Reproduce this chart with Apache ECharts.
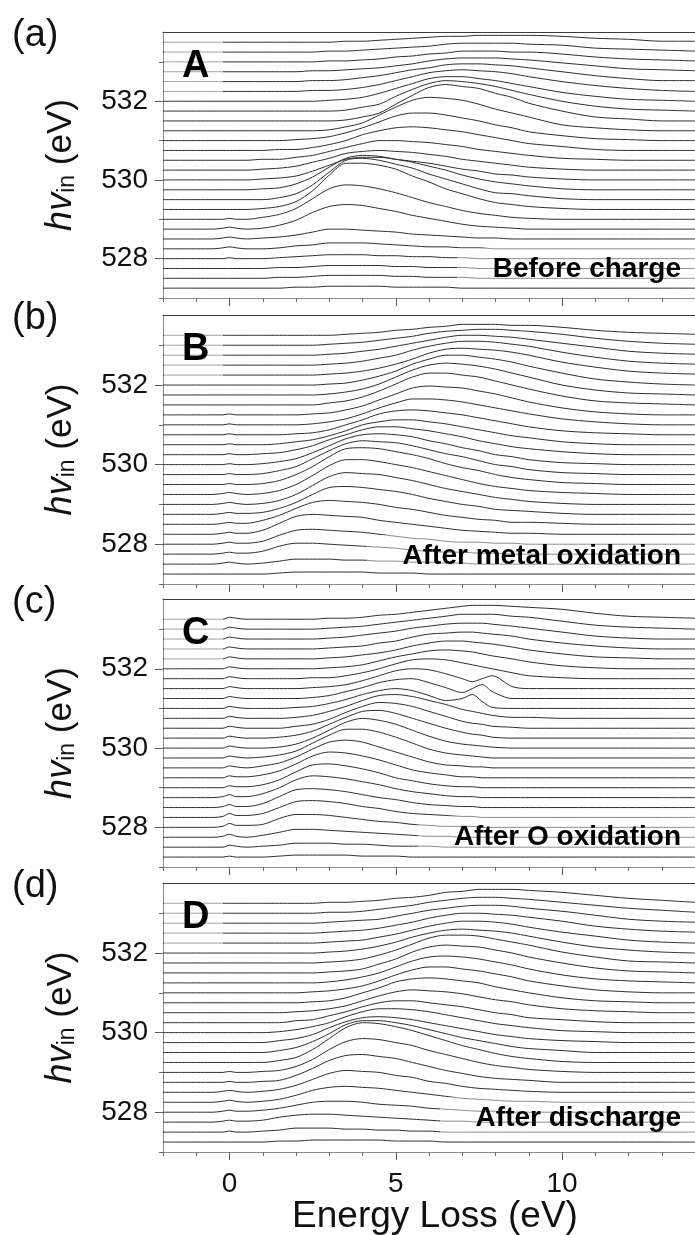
<!DOCTYPE html>
<html>
<head>
<meta charset="utf-8">
<title>RIXS maps</title>
<script src="https://cdn.jsdelivr.net/npm/echarts@6.0.0/dist/echarts.min.js"></script>
<style>
html,body{margin:0;padding:0;background:#ffffff;}
#chart{width:695px;height:1235px;}
</style>
</head>
<body>
<div id="chart"></div>
<script>
// ---------------- data ----------------
// energy-loss sample positions (eV)
const energyLoss  = [-2,-1,-0.5,-0.2,0,0.2,0.5,1,1.5,2,2.5,3,3.5,4,4.5,5,5.5,6,6.5,7,7.5,8,8.5,9,10,11,12,13,14];
const energyLossC = [-2,-1,-0.5,-0.2,0,0.2,0.5,1,1.5,2,2.5,3,3.5,4,4.5,5,5.5,6,6.5,7,7.3,7.6,7.9,8.5,9,10,11,12,13,14];

// excitation energies of the stacked spectra (eV)
const hvA = [527.25,527.5,527.75,528,528.25,528.5,528.75,529,529.25,529.5,529.75,530,530.25,530.5,530.75,531,531.25,531.5,531.75,532,532.25,532.5,532.75,533,533.25,533.5];
const hvB = [527.25,527.5,527.75,528,528.25,528.5,528.75,529,529.25,529.5,529.75,530,530.25,530.5,530.75,531,531.25,531.5,531.75,532,532.25,532.5,532.75,533,533.25];
const hvC = [527.25,527.5,527.75,528,528.25,528.5,528.75,529,529.25,529.5,529.75,530,530.25,530.5,530.75,531,531.25,531.5,531.75,532,532.25,532.5,532.75,533,533.25];
const hvD = [527.25,527.5,527.75,528,528.25,528.5,528.75,529,529.25,529.5,529.75,530,530.25,530.5,530.75,531,531.25,531.5,531.75,532,532.25,532.5,532.75,533,533.25];

// RIXS intensity of every spectrum (arbitrary units), one row per hv
const specA = [
[0,0,0,0,0,0,0,0,0,1,1,2,2,2,2,1,1,1,1,0,0,0,0,0,0,0,0,0,0],
[0,0,0,0,0,0,0,0,1,1,2,3,3,3,3,2,2,1,1,1,0,0,0,0,0,0,0,0,0],
[0,0,0,0,0,0,0,0,1,1,2,3,3,3,3,2,2,1,1,1,0,0,0,0,0,0,0,0,0],
[0,0,0,0,1,0,0,0,1,2,3,4,4,4,3,3,2,2,1,1,0,0,0,0,0,0,0,0,0],
[0,0,0,1,2,1,0,0,1,3,4,6,6,6,5,4,3,2,2,1,1,0,0,0,0,0,0,0,0],
[0,0,0,1,2,1,0,1,2,4,7,10,10,9,8,7,5,4,3,2,1,1,0,0,0,0,0,0,0],
[0,0,0,1,2,1,0,1,4,9,17,23,25,24,21,18,14,11,8,5,3,2,1,0,0,0,0,0,0],
[0,0,0,0,1,0,0,2,5,11,21,31,35,34,31,27,22,17,13,9,6,4,2,1,0,0,0,0,0],
[0,0,0,0,0,0,0,1,3,8,19,35,47,47,45,41,34,28,21,16,11,7,5,3,1,0,0,0,0],
[0,0,0,0,0,0,0,0,2,6,15,28,40,42,40,36,32,26,21,16,11,7,6,4,1,0,0,0,0],
[0,0,0,0,0,0,0,1,2,6,13,23,32,35,34,31,28,24,20,15,11,8,6,4,1,0,0,0,0],
[0,0,0,0,0,0,0,1,2,4,9,15,21,23,23,21,19,17,14,11,9,6,5,3,1,0,0,0,0],
[0,0,0,0,0,0,0,1,2,4,8,12,17,19,20,19,18,16,14,11,9,7,5,3,1,0,0,0,0],
[0,0,0,0,0,0,0,1,1,3,5,9,13,17,20,20,19,18,16,14,11,9,7,5,2,1,0,0,0],
[0,0,0,0,0,0,0,0,1,1,3,6,10,16,20,23,24,23,21,19,16,13,10,7,4,1,0,0,0],
[0,0,0,0,0,0,0,0,0,1,2,4,8,13,19,25,28,28,26,23,20,16,13,9,5,2,1,0,0],
[0,0,0,0,0,0,0,0,0,0,0,1,4,8,16,24,31,34,33,31,27,22,18,14,6,3,1,0,0],
[0,0,0,0,0,0,0,0,0,0,0,0,1,4,8,17,26,34,37,35,33,28,24,18,10,4,2,0,0],
[0,0,0,0,0,0,0,0,0,0,0,0,1,4,7,15,22,28,31,30,28,25,21,17,10,5,2,1,0],
[0,0,0,0,0,0,0,0,0,0,0,1,2,4,8,13,18,23,25,25,23,21,18,15,9,5,2,1,0],
[0,0,0,0,0,0,0,0,0,0,1,1,2,4,7,11,15,19,21,22,21,20,18,15,10,6,3,1,0],
[0,0,0,0,0,0,0,0,0,0,1,1,2,4,6,9,12,14,17,18,18,17,16,14,10,6,3,1,1],
[0,0,0,0,0,0,0,0,0,0,1,1,2,3,4,6,8,11,13,14,14,14,13,12,9,6,3,2,1],
[0,0,0,0,0,0,0,0,0,0,0,1,1,2,3,5,6,8,9,11,11,11,10,10,8,5,3,2,1],
[0,0,0,0,0,0,0,0,0,0,0,1,1,2,3,4,5,6,8,9,9,9,9,8,7,4,3,2,1],
[0,0,0,0,0,0,0,0,0,0,0,0,1,1,2,3,4,5,6,6,7,7,7,7,6,4,3,1,1]
];
const specB = [
[0,0,0,0,0,0,0,0,1,2,2,2,2,2,1,1,1,0,0,0,0,0,0,0,0,0,0,0,0],
[0,0,0,1,2,1,0,1,3,5,5,5,4,4,3,3,2,2,1,1,0,0,0,0,0,0,0,0,0],
[0,0,0,1,2,1,1,3,8,11,11,10,9,8,7,6,4,3,2,2,1,1,0,0,0,0,0,0,0],
[0,0,0,1,2,1,1,3,9,14,15,14,13,12,10,8,6,5,3,2,2,1,1,0,0,0,0,0,0],
[0,0,0,1,2,1,1,4,11,18,20,19,18,17,14,12,10,8,6,4,3,2,1,1,0,0,0,0,0],
[0,0,0,1,2,1,1,4,9,16,22,24,23,22,20,17,15,12,9,7,5,4,2,2,1,0,0,0,0],
[0,0,0,1,2,1,1,2,6,12,20,27,28,27,25,23,20,16,13,10,8,5,4,3,1,0,0,0,0],
[0,0,0,1,2,1,0,1,4,10,19,28,32,31,30,27,24,20,16,13,10,7,5,3,1,0,0,0,0],
[0,0,0,1,2,1,0,1,4,10,19,29,35,35,33,30,27,23,19,15,11,8,6,4,2,1,0,0,0],
[0,0,0,0,1,0,0,1,4,10,18,28,36,37,36,33,30,26,21,17,14,10,7,5,2,1,0,0,0],
[0,0,0,0,1,0,0,1,4,8,16,24,31,34,33,32,29,25,21,18,14,10,8,5,2,1,0,0,0],
[0,0,0,0,1,0,0,1,3,6,12,19,26,30,31,30,28,24,21,17,14,10,8,5,2,1,0,0,0],
[0,0,0,0,1,0,0,1,2,5,9,15,20,25,28,28,26,24,21,18,14,11,8,6,3,1,0,0,0],
[0,0,0,0,1,0,0,0,1,3,5,9,14,20,23,25,25,23,21,18,15,12,9,7,3,1,0,0,0],
[0,0,0,0,1,0,0,0,0,1,2,5,10,15,21,24,25,24,22,20,17,14,11,8,4,2,1,0,0],
[0,0,0,0,1,0,0,0,0,0,1,3,6,11,17,22,26,26,25,23,20,17,14,11,6,3,1,0,0],
[0,0,0,0,1,0,0,0,0,0,1,2,5,9,15,21,27,29,28,27,24,21,17,13,7,3,1,0,0],
[0,0,0,0,0,0,0,0,0,0,0,2,4,8,14,21,28,32,32,30,28,24,20,16,9,4,2,1,0],
[0,0,0,0,0,0,0,0,0,0,0,1,3,6,11,18,25,30,32,31,29,26,22,18,10,5,2,1,0],
[0,0,0,0,0,0,0,0,0,0,0,1,2,5,9,14,21,26,30,30,28,26,23,19,12,6,3,1,0],
[0,0,0,0,0,0,0,0,0,0,0,1,2,4,7,11,16,22,26,27,26,25,23,20,13,8,4,2,1],
[0,0,0,0,0,0,0,0,0,0,0,1,2,4,7,10,15,19,22,24,24,23,21,19,13,8,4,2,1],
[0,0,0,0,0,0,0,0,0,0,0,1,2,4,6,9,12,15,18,20,20,19,18,16,12,8,4,2,1],
[0,0,0,0,0,0,0,0,0,0,0,1,2,3,5,7,9,12,14,15,16,16,15,14,11,7,4,2,1],
[0,0,0,0,0,0,0,0,0,0,0,0,1,2,3,5,6,8,9,11,11,11,10,10,8,5,3,2,1]
];
const specC = [
[0,0,0,0,1,0,0,0,1,2,2,2,2,1,1,1,0,0,0,0,0,0,0,0,0,0,0,0,0,0],
[0,0,0,0,2,1,0,1,2,4,4,4,3,3,2,1,1,1,0,0,0,0,0,0,0,0,0,0,0,0],
[0,0,0,1,3,1,0,2,5,8,8,7,6,5,4,3,2,1,1,0,0,0,0,0,0,0,0,0,0,0],
[0,0,0,1,4,2,2,3,9,13,13,12,10,8,6,5,3,2,1,1,1,0,0,0,0,0,0,0,0,0],
[0,0,0,1,4,2,2,4,10,16,17,16,14,11,9,6,4,3,2,1,1,0,0,0,0,0,0,0,0,0],
[0,0,0,1,3,1,1,4,11,18,19,18,16,13,10,8,5,3,2,1,1,0,0,0,0,0,0,0,0,0],
[0,0,0,1,3,1,1,4,10,18,22,21,19,16,13,9,6,4,2,1,1,0,0,0,0,0,0,0,0,0],
[0,0,0,0,2,1,1,3,8,16,23,24,22,19,15,10,7,4,2,1,1,0,0,0,0,0,0,0,0,0],
[0,0,0,0,2,1,1,3,7,14,22,26,25,22,18,13,8,5,3,1,1,0,0,0,0,0,0,0,0,0],
[0,0,0,0,2,1,0,2,5,11,19,26,28,26,21,16,11,6,3,2,1,1,0,0,0,0,0,0,0,0],
[0,0,0,0,2,1,0,1,3,7,15,23,29,29,26,21,15,9,5,3,2,1,0,0,0,0,0,0,0,0],
[0,0,0,0,2,1,0,0,1,4,10,18,26,30,28,24,18,12,7,4,3,2,1,0,0,0,0,0,0,0],
[0,0,0,0,2,1,0,0,1,3,7,14,21,27,28,25,20,15,10,6,4,3,1,0,0,0,0,0,0,0],
[0,0,0,0,2,1,0,0,0,2,4,9,16,22,26,25,22,17,12,7,5,4,2,1,0,0,0,0,0,0],
[0,0,0,0,2,1,0,0,0,1,3,7,12,18,23,24,22,18,14,9,7,5,3,1,1,0,0,0,0,0],
[0,0,0,0,2,1,0,0,0,1,2,5,9,14,18,20,18,13,8,10,14,7,1,0,0,0,0,0,0,0],
[0,0,0,0,2,1,0,0,0,0,1,3,7,11,16,19,20,16,11,6,10,14,7,0,0,0,0,0,0,0],
[0,0,0,0,2,1,0,0,0,0,1,2,4,8,13,18,20,19,15,10,7,10,13,2,0,0,0,0,0,0],
[0,0,0,0,2,1,0,0,0,0,1,1,3,6,10,15,19,20,19,16,14,12,10,6,3,1,0,0,0,0],
[0,0,0,0,2,1,0,0,0,0,0,1,2,4,8,12,15,18,19,18,17,15,13,10,7,3,1,0,0,0],
[0,0,0,0,2,1,0,0,0,0,0,1,2,4,6,9,13,16,18,18,17,16,15,12,9,5,2,1,0,0],
[0,0,0,0,2,1,0,0,0,0,0,1,2,3,6,8,12,15,16,17,17,16,15,13,10,6,3,1,0,0],
[0,0,0,0,2,1,0,0,0,0,0,1,2,4,6,8,11,13,15,16,16,16,15,13,11,7,3,1,0,0],
[0,0,0,0,2,1,0,0,0,0,0,1,2,3,5,7,9,11,13,15,15,15,15,13,12,8,4,2,1,0],
[0,0,0,0,2,1,0,0,0,0,0,1,1,2,4,5,7,9,11,13,14,14,14,13,12,10,6,3,2,1]
];
const specD = [
[0,0,0,0,0,0,0,0,1,1,2,2,2,2,2,1,1,1,0,0,0,0,0,0,0,0,0,0,0],
[0,0,0,0,1,0,0,1,2,4,4,4,3,3,2,2,1,1,0,0,0,0,0,0,0,0,0,0,0],
[0,0,0,1,2,1,1,2,5,7,8,8,7,6,5,4,3,2,1,1,0,0,0,0,0,0,0,0,0],
[0,0,0,1,2,1,1,2,4,7,10,11,11,10,8,7,6,4,3,2,1,1,0,0,0,0,0,0,0],
[0,0,0,1,2,1,0,1,3,7,12,15,16,15,14,12,10,8,6,4,3,2,1,1,0,0,0,0,0],
[0,0,0,1,2,1,0,1,3,7,13,19,22,21,20,17,15,11,9,6,4,3,2,1,0,0,0,0,0],
[0,0,0,0,1,0,0,1,2,7,14,22,27,28,26,24,20,16,12,9,6,4,3,2,0,0,0,0,0],
[0,0,0,0,1,0,0,1,2,6,13,23,31,34,33,30,27,22,18,14,10,7,5,3,1,0,0,0,0],
[0,0,0,0,0,0,0,0,2,5,13,24,35,40,39,36,32,27,22,17,13,9,6,4,1,0,0,0,0],
[0,0,0,0,0,0,0,0,2,5,11,19,28,32,32,30,27,23,19,15,12,9,6,4,2,0,0,0,0],
[0,0,0,0,0,0,0,0,2,4,8,15,21,25,26,25,23,20,17,14,11,8,6,4,2,1,0,0,0],
[0,0,0,0,0,0,0,0,1,3,6,10,16,21,24,24,23,21,18,15,12,9,7,5,2,1,0,0,0],
[0,0,0,0,0,0,0,0,0,2,3,7,11,16,20,22,22,20,18,16,13,10,8,5,3,1,0,0,0],
[0,0,0,0,0,0,0,0,0,1,2,4,7,12,17,21,23,22,21,19,16,13,11,8,4,2,1,0,0],
[0,0,0,0,0,0,0,0,0,0,1,2,5,10,15,21,24,25,24,22,20,16,13,10,5,2,1,0,0],
[0,0,0,0,0,0,0,0,0,0,1,2,4,7,12,18,23,26,26,24,22,19,16,12,7,3,1,0,0],
[0,0,0,0,0,0,0,0,0,0,0,1,3,6,10,16,22,26,27,26,24,21,18,14,8,4,2,1,0],
[0,0,0,0,0,0,0,0,0,0,0,1,2,4,9,14,21,26,28,27,26,23,20,16,10,5,2,1,0],
[0,0,0,0,0,0,0,0,0,0,0,1,2,4,8,13,19,25,28,28,27,24,21,18,11,6,2,1,0],
[0,0,0,0,0,0,0,0,0,0,0,1,2,4,7,11,16,20,23,24,23,22,20,17,11,6,3,1,0],
[0,0,0,0,0,0,0,0,0,0,0,1,2,3,6,9,13,17,20,22,22,21,19,16,11,7,3,1,0],
[0,0,0,0,0,0,0,0,0,0,0,1,2,3,5,8,11,15,18,20,20,19,18,16,12,7,4,2,1],
[0,0,0,0,0,0,0,0,0,0,0,1,2,3,4,7,10,13,15,17,18,18,17,15,12,8,4,2,1],
[0,0,0,0,0,0,0,0,0,0,0,1,1,2,4,6,8,11,13,15,16,16,15,14,11,8,5,3,1],
[0,0,0,0,0,0,0,0,0,0,0,1,1,2,3,5,6,8,11,12,14,14,14,13,11,8,5,3,1]
];

// axis ticks / labels
const yTickValues  = [528, 530, 532];
const yMinorTicks  = [527, 528, 529, 530, 531, 532, 533];
const xTickValues  = [0, 5, 10];
const xMinorTicks  = [-2,-1,0,1,2,3,4,5,6,7,8,9,10,11,12,13,14];
const panelTags     = ['(a)', '(b)', '(c)', '(d)'];
const sampleLetters = ['A', 'B', 'C', 'D'];
const conditions    = ['Before charge', 'After metal oxidation', 'After O oxidation', 'After discharge'];
const xTitle = 'Energy Loss (eV)';

// ---------------- layout / style ----------------
const FONT = '"Liberation Sans", Arial, Helvetica, sans-serif';
const OFFSET_PER_UNIT = 0.025;   // eV of vertical offset per intensity unit
const layout = [
  {top: 32,  height: 266, condBase: 278},
  {top: 315, height: 269, condBase: 565},
  {top: 599, height: 268, condBase: 846},
  {top: 883, height: 269, condBase: 1127}
];
const panelData = [
  {hv: hvA, x: energyLoss,  spec: specA},
  {hv: hvB, x: energyLoss,  spec: specB},
  {hv: hvC, x: energyLossC, spec: specC},
  {hv: hvD, x: energyLoss,  spec: specD}
];
const condWidth = [188, 278, 227, 205];

const grid = [], xAxis = [], yAxis = [], series = [], graphic = [];
const AXIS_GRAY = '#8c8c8c';

layout.forEach((L, i) => {
  const last = i === 3;
  grid.push({left: 163, top: L.top, width: 534, height: L.height, containLabel: false});
  // bottom axis: major ticks + labels
  xAxis.push({
    gridIndex: i, type: 'value', min: -2, max: 14, position: 'bottom',
    axisLine: {show: true, onZero: false, lineStyle: {color: AXIS_GRAY, width: 1}},
    axisTick: {show: true, inside: false, length: 8, customValues: xTickValues, lineStyle: {color: '#555', width: 1}},
    axisLabel: {show: last, customValues: xTickValues, margin: 18, fontSize: 28, color: '#111', fontFamily: FONT},
    splitLine: {show: false}
  });
  // bottom axis: minor ticks
  xAxis.push({
    gridIndex: i, type: 'value', min: -2, max: 14, position: 'bottom',
    axisLine: {show: false, onZero: false},
    axisTick: {show: true, length: 4, customValues: xMinorTicks, lineStyle: {color: '#666', width: 1}},
    axisLabel: {show: false}, splitLine: {show: false}
  });
  // top frame line
  xAxis.push({
    gridIndex: i, type: 'value', min: -2, max: 14, position: 'top',
    axisLine: {show: true, onZero: false, lineStyle: {color: '#3c3c3c', width: 1}},
    axisTick: {show: false}, axisLabel: {show: false}, splitLine: {show: false}
  });
  // left axis: major ticks + labels
  yAxis.push({
    gridIndex: i, type: 'value', min: 527, max: 533.76, position: 'left',
    axisLine: {show: true, onZero: false, lineStyle: {color: AXIS_GRAY, width: 1}},
    axisTick: {show: true, length: 8, customValues: yTickValues, lineStyle: {color: '#555', width: 1}},
    axisLabel: {show: true, customValues: yTickValues, margin: 15, fontSize: 28, color: '#111', fontFamily: FONT},
    splitLine: {show: false}
  });
  // left axis: minor ticks
  yAxis.push({
    gridIndex: i, type: 'value', min: 527, max: 533.76, position: 'left',
    axisLine: {show: false, onZero: false},
    axisTick: {show: true, length: 4, customValues: yMinorTicks, lineStyle: {color: '#666', width: 1}},
    axisLabel: {show: false}, splitLine: {show: false}
  });

  const P = panelData[i];
  P.hv.forEach((hv, k) => {
    series.push({
      type: 'line', xAxisIndex: i * 3, yAxisIndex: i * 2,
      data: P.x.map((x, j) => [x, hv + P.spec[k][j] * OFFSET_PER_UNIT]),
      showSymbol: false, symbol: 'none', smooth: 0.3, silent: true,
      lineStyle: {color: '#2e2e2e', width: 1}, z: 2
    });
  });

  // panel tag (a) ...
  graphic.push({type: 'text', x: 12, y: L.top + 4, z: 60,
    style: {text: panelTags[i], fontSize: 38, fontFamily: FONT, fill: '#111', align: 'left', verticalAlign: 'middle'}});
  // whitened box behind sample letter
  graphic.push({type: 'rect', z: 50, shape: {x: 164, y: L.top + 4, width: 59, height: 58},
    style: {fill: 'rgba(255,255,255,0.55)'}});
  graphic.push({type: 'text', x: 182, y: L.top + 35, z: 60,
    style: {text: sampleLetters[i], fontSize: 38, fontWeight: 'bold', fontFamily: FONT, fill: '#000', align: 'left', verticalAlign: 'middle'}});
  // whitened strip behind condition text
  const stripX = 680 - condWidth[i] - 35;
  graphic.push({type: 'rect', z: 50, shape: {x: stripX, y: L.condBase - 30, width: 720 - stripX, height: 36},
    style: {fill: 'rgba(255,255,255,0.45)'}});
  graphic.push({type: 'text', x: 681, y: L.condBase - 9, z: 60,
    style: {text: conditions[i], fontSize: 28, fontWeight: 'bold', fontFamily: FONT, fill: '#000', align: 'right', verticalAlign: 'middle'}});
  // y-axis title
  graphic.push({type: 'text', x: 61, y: L.top + L.height / 2, rotation: Math.PI / 2, z: 60,
    style: {text: '{it|hv}{sub|in}{rm| (eV)}', align: 'center', verticalAlign: 'middle', fill: '#111',
      rich: {
        it:  {fontStyle: 'italic', fontSize: 36, fontFamily: FONT, fill: '#111'},
        sub: {fontSize: 23, fontFamily: FONT, fill: '#111', verticalAlign: 'bottom'},
        rm:  {fontSize: 35, fontFamily: FONT, fill: '#111'}
      }}});
});

graphic.push({type: 'text', x: 435, y: 1217, z: 60,
  style: {text: xTitle, fontSize: 37, fontFamily: FONT, fill: '#111', align: 'center', verticalAlign: 'middle'}});

const chart = echarts.init(document.getElementById('chart'), null, {renderer: 'canvas'});
chart.setOption({
  animation: false,
  backgroundColor: '#ffffff',
  grid: grid, xAxis: xAxis, yAxis: yAxis, series: series, graphic: graphic
});
</script>
</body>
</html>
